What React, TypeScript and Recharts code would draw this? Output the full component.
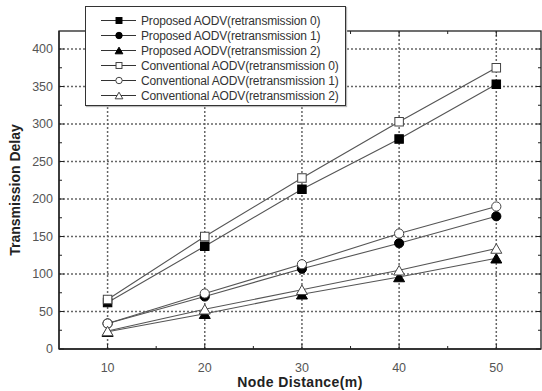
import React from 'react';
import { LineChart, Line, XAxis, YAxis, CartesianGrid } from 'recharts';

const distances = [10, 20, 30, 40, 50];
const proposed0 = [62, 137, 213, 280, 353];
const proposed1 = [34, 70, 107, 141, 177];
const proposed2 = [23, 47, 73, 96, 121];
const conventional0 = [66, 150, 228, 303, 375];
const conventional1 = [34, 74, 113, 154, 190];
const conventional2 = [24, 53, 79, 105, 134];

const xTicks = [10, 15, 20, 25, 30, 35, 40, 45, 50];
const yTicks = [0, 25, 50, 75, 100, 125, 150, 175, 200, 225, 250, 275, 300, 325, 350, 375, 400];
const xGrid = [10, 20, 30, 40, 50];
const yGrid = [50, 100, 150, 200, 250, 300, 350, 400];
const xDomain = [5, 54.6];
const yDomain = [0, 424];

const seriesList = [
  { key: 'p0', name: 'Proposed AODV(retransmission 0)', values: proposed0, shape: 'square', filled: true },
  { key: 'p1', name: 'Proposed AODV(retransmission 1)', values: proposed1, shape: 'circle', filled: true },
  { key: 'p2', name: 'Proposed AODV(retransmission 2)', values: proposed2, shape: 'triangle', filled: true },
  { key: 'c0', name: 'Conventional AODV(retransmission 0)', values: conventional0, shape: 'square', filled: false },
  { key: 'c1', name: 'Conventional AODV(retransmission 1)', values: conventional1, shape: 'circle', filled: false },
  { key: 'c2', name: 'Conventional AODV(retransmission 2)', values: conventional2, shape: 'triangle', filled: false },
];

const data = distances.map((x, i) => {
  const row: any = { x };
  seriesList.forEach(s => { row[s.key] = s.values[i]; });
  return row;
});

const W = 542;
const H = 391;
const LEFT = 59;
const RIGHT = 541;
const TOP = 31;
const BOTTOM = 349;
const AXIS = '#222';
const LABEL = '#555';
const FONT = '"Liberation Sans", Arial, sans-serif';

function Marker({ cx, cy, shape, filled, scale = 1 }: any) {
  const fill = filled ? '#000' : '#fff';
  const stroke = filled ? '#000' : '#444';
  if (shape === 'square') {
    const s = 8.5 * scale;
    return <rect x={cx - s / 2} y={cy - s / 2} width={s} height={s} fill={fill} stroke={stroke} strokeWidth={1} />;
  }
  if (shape === 'circle') {
    return <circle cx={cx} cy={cy} r={4.6 * scale} fill={fill} stroke={stroke} strokeWidth={1} />;
  }
  const w = 11 * scale;
  const h = 9.5 * scale;
  const pts = `${cx - w / 2},${cy + h / 2} ${cx + w / 2},${cy + h / 2} ${cx},${cy - h / 2}`;
  return <polygon points={pts} fill={fill} stroke={stroke} strokeWidth={1} />;
}

// left axis: labels + inward ticks on both left and right frame
const LeftTick = ({ y, payload }: any) => {
  const major = payload.value % 50 === 0;
  const len = major ? 5 : 3;
  return (
    <g>
      <line x1={LEFT} x2={LEFT + len} y1={y} y2={y} stroke={AXIS} />
      <line x1={RIGHT} x2={RIGHT - len} y1={y} y2={y} stroke={AXIS} />
      {major && (
        <text x={LEFT - 6} y={y} textAnchor="end" dominantBaseline="central" fontSize={12.5} fill={LABEL} fontFamily={FONT}>
          {payload.value}
        </text>
      )}
    </g>
  );
};

// bottom axis: labels + inward ticks on both bottom and top frame
const BottomTick = ({ x, payload }: any) => {
  const major = payload.value % 10 === 0;
  const len = major ? 5 : 3;
  return (
    <g>
      <line x1={x} x2={x} y1={BOTTOM} y2={BOTTOM - len} stroke={AXIS} />
      <line x1={x} x2={x} y1={TOP} y2={TOP + len} stroke={AXIS} />
      {major && (
        <text x={x} y={BOTTOM + 19} textAnchor="middle" dominantBaseline="central" fontSize={12.5} fill={LABEL} fontFamily={FONT}>
          {payload.value}
        </text>
      )}
    </g>
  );
};

export default function App() {
  return (
    <div style={{ position: 'absolute', left: 0, top: 0, width: W, height: H, overflow: 'hidden', background: '#fff', fontFamily: FONT }}>
      <LineChart width={W} height={H} data={data} margin={{ top: TOP, right: W - RIGHT, bottom: 0, left: 0 }}>
        <CartesianGrid horizontalValues={yGrid} verticalValues={xGrid} stroke="#666" strokeWidth={1.5} strokeDasharray="2 2" />
        <XAxis dataKey="x" type="number" domain={xDomain} ticks={xTicks} height={H - BOTTOM} axisLine={{ stroke: AXIS, strokeWidth: 1.3 }} tickLine={false} tick={<BottomTick />} interval={0} />
        <YAxis type="number" domain={yDomain} ticks={yTicks} width={LEFT} axisLine={{ stroke: AXIS, strokeWidth: 1.3 }} tickLine={false} tick={<LeftTick />} interval={0} />
        {seriesList.map(s => (
          <Line
            key={s.key}
            type="linear"
            dataKey={s.key}
            name={s.name}
            stroke="#555"
            strokeWidth={1.1}
            isAnimationActive={false}
            activeDot={false}
            dot={(p: any) => <Marker key={`${s.key}-${p.index}`} cx={p.cx} cy={p.cy} shape={s.shape} filled={s.filled} />}
          />
        ))}
      </LineChart>

      <svg width={W} height={H} style={{ position: 'absolute', left: 0, top: 0, pointerEvents: 'none' }}>
        <rect x={LEFT} y={TOP} width={RIGHT - LEFT} height={BOTTOM - TOP} fill="none" stroke={AXIS} strokeWidth={1.3} />
      </svg>

      <div style={{ position: 'absolute', zIndex: 5, left: 85, top: 6, width: 261, height: 100, border: '1px solid #333', background: '#fff', boxShadow: '1px 1px 1px #bbb', boxSizing: 'border-box' }}>
        {seriesList.map((s, i) => (
          <div key={s.key} style={{ position: 'absolute', left: 0, top: 6 + i * 15, height: 15, display: 'flex', alignItems: 'center' }}>
            <svg width={42} height={15} style={{ marginLeft: 13 }}>
              <line x1={2} x2={37} y1={7.5} y2={7.5} stroke="#333" strokeWidth={1} />
              <Marker cx={20} cy={7.5} shape={s.shape} filled={s.filled} scale={0.7} />
            </svg>
            <span style={{ fontSize: 12, color: '#333', whiteSpace: 'nowrap', letterSpacing: -0.15 }}>{s.name}</span>
          </div>
        ))}
      </div>

      <div style={{ position: 'absolute', left: 0, top: BOTTOM + 26, width: W, paddingLeft: LEFT, paddingRight: W - RIGHT, boxSizing: 'border-box', textAlign: 'center', fontWeight: 'bold', fontSize: 14, lineHeight: '14px', color: '#222', letterSpacing: 0.4 }}>
        Node Distance(m)
      </div>
      <div style={{ position: 'absolute', left: 15, top: (TOP + BOTTOM) / 2, transform: 'translate(-50%, -50%) rotate(-90deg)', fontWeight: 'bold', fontSize: 14, color: '#222', whiteSpace: 'nowrap' }}>
        Transmission Delay
      </div>
    </div>
  );
}
